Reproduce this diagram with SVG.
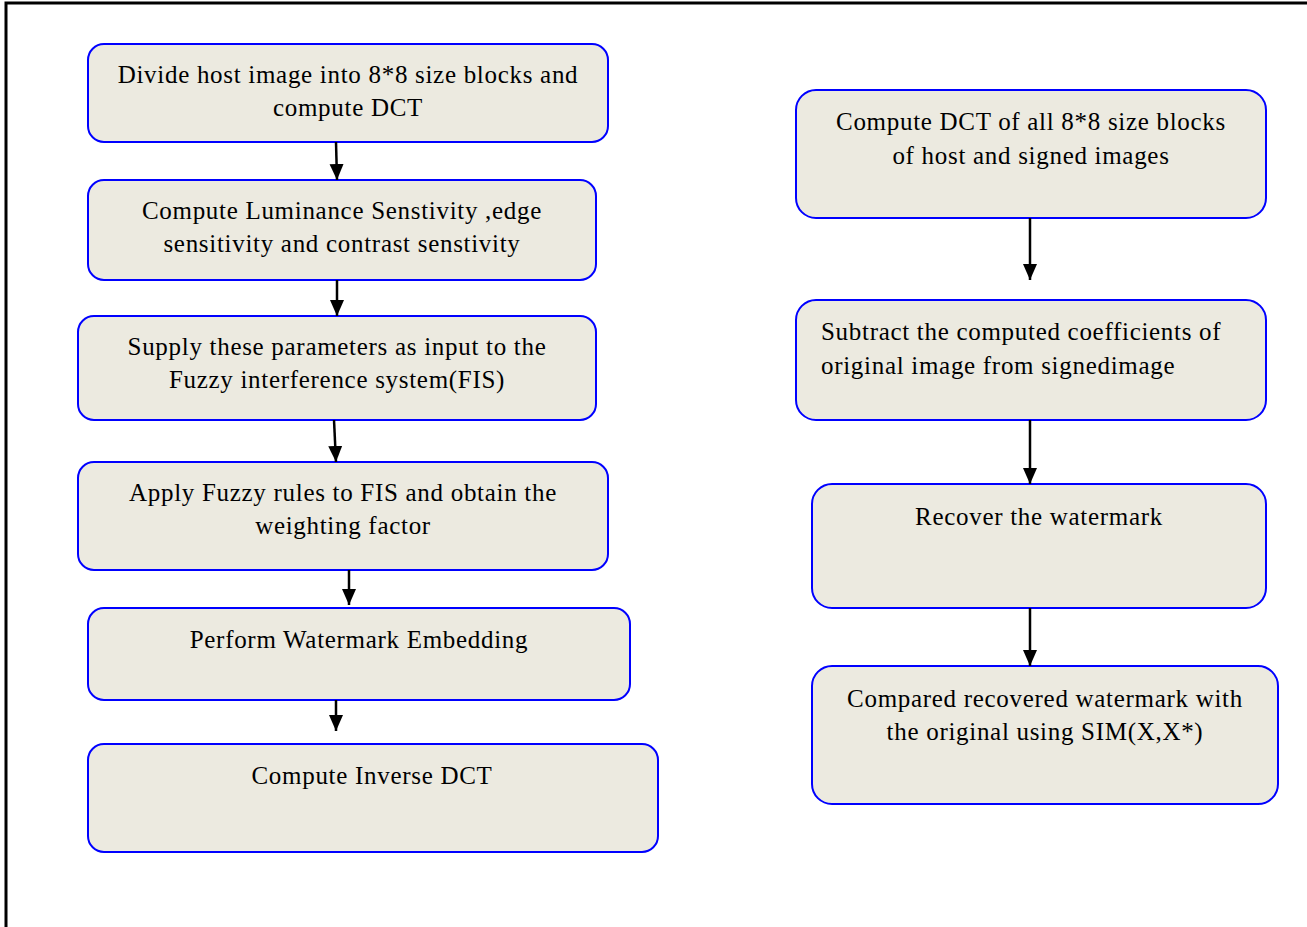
<svg xmlns="http://www.w3.org/2000/svg" width="1307" height="927" viewBox="0 0 1307 927">
<defs>
<style>
.box{fill:#ECEAE0;stroke:#0000FF;stroke-width:2}
.t{font-family:"Liberation Serif","Times New Roman",serif;font-size:25px;letter-spacing:0.7px;fill:#000}
.c{text-anchor:middle}
.ln{stroke:#000;stroke-width:2.5;fill:none}
.frame{stroke:#000;stroke-width:3;fill:none}
</style>
<marker id="a" markerWidth="16" markerHeight="16" refX="16" refY="7" orient="auto" markerUnits="userSpaceOnUse" viewBox="0 0 16 14">
<path d="M0,0 L16,7 L0,14 Z" fill="#000"/>
</marker>
</defs>
<rect width="1307" height="927" fill="#fff"/>
<path class="frame" d="M6,927 V3 H1307"/>

<g id="n1"><rect class="box" x="88" y="44" width="520" height="98" rx="16"/>
<text class="t c" x="348" y="83">Divide host image into 8*8 size blocks and</text>
<text class="t c" x="348" y="116">compute DCT</text></g>

<g id="n2"><rect class="box" x="88" y="180" width="508" height="100" rx="16"/>
<text class="t c" x="342" y="219">Compute Luminance Senstivity ,edge</text>
<text class="t c" x="342" y="252">sensitivity and contrast senstivity</text></g>

<g id="n3"><rect class="box" x="78" y="316" width="518" height="104" rx="16"/>
<text class="t c" x="337" y="355">Supply these parameters as input to the</text>
<text class="t c" x="337" y="388">Fuzzy interference system(FIS)</text></g>

<g id="n4"><rect class="box" x="78" y="462" width="530" height="108" rx="16"/>
<text class="t c" x="343" y="501">Apply Fuzzy rules to FIS and obtain the</text>
<text class="t c" x="343" y="534">weighting factor</text></g>

<g id="n5"><rect class="box" x="88" y="608" width="542" height="92" rx="16"/>
<text class="t c" x="359" y="648">Perform Watermark Embedding</text></g>

<g id="n6"><rect class="box" x="88" y="744" width="570" height="108" rx="16"/>
<text class="t c" x="372" y="784">Compute Inverse DCT</text></g>

<g id="r1"><rect class="box" x="796" y="90" width="470" height="128" rx="20"/>
<text class="t c" x="1031" y="130">Compute DCT of all 8*8 size blocks</text>
<text class="t c" x="1031" y="164">of host and signed images</text></g>

<g id="r2"><rect class="box" x="796" y="300" width="470" height="120" rx="20"/>
<text class="t" x="821" y="340">Subtract the computed coefficients of</text>
<text class="t" x="821" y="374">original image from signedimage</text></g>

<g id="r3"><rect class="box" x="812" y="484" width="454" height="124" rx="20"/>
<text class="t c" x="1039" y="525">Recover the watermark</text></g>

<g id="r4"><rect class="box" x="812" y="666" width="466" height="138" rx="20"/>
<text class="t c" x="1045" y="707">Compared recovered watermark with</text>
<text class="t c" x="1045" y="740">the original using SIM(X,X*)</text></g>

<g id="connectors">
<line class="ln" x1="336" y1="142" x2="337" y2="180" marker-end="url(#a)"/>
<line class="ln" x1="337" y1="280" x2="337" y2="316" marker-end="url(#a)"/>
<line class="ln" x1="334" y1="420" x2="336" y2="462" marker-end="url(#a)"/>
<line class="ln" x1="349" y1="570" x2="349" y2="605" marker-end="url(#a)"/>
<line class="ln" x1="336" y1="700" x2="336" y2="731" marker-end="url(#a)"/>
<line class="ln" x1="1030" y1="218" x2="1030" y2="280" marker-end="url(#a)"/>
<line class="ln" x1="1030" y1="420" x2="1030" y2="484" marker-end="url(#a)"/>
<line class="ln" x1="1030" y1="608" x2="1030" y2="666" marker-end="url(#a)"/>
</g>
</svg>
